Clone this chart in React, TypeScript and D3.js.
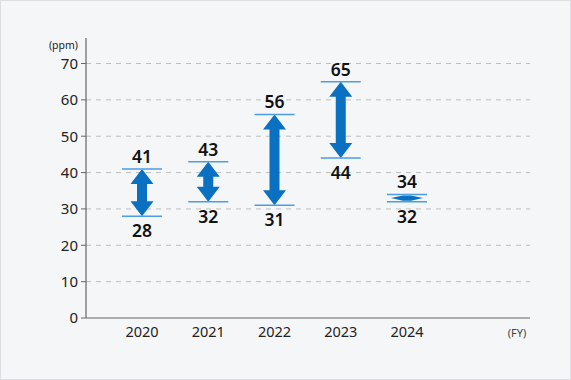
import React from "react";
import * as d3 from "d3";

const years = ["2020", "2021", "2022", "2023", "2024"];
const highs = [41, 43, 56, 65, 34];
const lows = [28, 32, 31, 44, 32];
const yTicks = [0, 10, 20, 30, 40, 50, 60, 70];

export default function App() {
  const W = 571, H = 380;
  const y = d3.scaleLinear().domain([0, 70]).range([318, 63.5]);
  const x = d3.scalePoint<string>().domain(years).range([142, 407]);
  const axisX = 86;
  const font = "'Noto Sans', 'DejaVu Sans', sans-serif";

  const arrowPath = (top: number, bot: number) => {
    const h = bot - top;
    const hl = Math.min(15, h / 2);
    const sw = 5, hw = 11.5;
    if (h / 2 <= hl) {
      const m = (top + bot) / 2;
      const w = 16;
      return `M${-w},${m} L${-4},${top + 1} L${4},${top + 1} L${w},${m} L${4},${bot - 1} L${-4},${bot - 1} Z`;
    }
    return `M0,${top} L${hw},${top + hl} L${sw},${top + hl} L${sw},${bot - hl} L${hw},${bot - hl} L0,${bot} L${-hw},${bot - hl} L${-sw},${bot - hl} L${-sw},${top + hl} L${-hw},${top + hl} Z`;
  };

  return (
    <div style={{ position: "fixed", left: 0, top: 0, width: W, height: H }}>
      <svg width={W} height={H} style={{ display: "block" }}>
        <rect x={0.5} y={0.5} width={W - 1} height={H - 1} fill="#f5f6f8" stroke="#dcdee2" />
        {yTicks.map((t) => (
          <g key={t}>
            {t > 0 && (
              <line x1={axisX} x2={530} y1={y(t)} y2={y(t)} stroke="#bdbdbd" strokeDasharray="5,5" strokeWidth={1} />
            )}
            <line x1={axisX - 5} x2={axisX} y1={y(t)} y2={y(t)} stroke="#666" />
            <text x={axisX - 8} y={y(t)} dy="0.36em" textAnchor="end" fontFamily={font} fontSize={15} fill="#222">
              {t}
            </text>
          </g>
        ))}
        <line x1={axisX} x2={axisX} y1={38} y2={318} stroke="#666" strokeWidth={1.2} />
        <line x1={axisX} x2={530} y1={318} y2={318} stroke="#666" strokeWidth={1.2} />
        <text x={78} y={49} textAnchor="end" fontFamily={font} fontSize={10.5} fill="#222">(ppm)</text>
        <text x={517} y={337} textAnchor="middle" fontFamily={font} fontSize={11} fill="#444">(FY)</text>
        {years.map((yr, i) => {
          const cx = x(yr)!;
          const yt = y(highs[i]);
          const yb = y(lows[i]);
          return (
            <g key={yr}>
              <text x={cx} y={337} textAnchor="middle" fontFamily={font} fontSize={14.5} fill="#222">{yr}</text>
              <path transform={`translate(${cx},0)`} d={arrowPath(yt, yb)} fill="#0a70c2" />
              <line x1={cx - 20} x2={cx + 20} y1={yt} y2={yt} stroke="#4a9de0" strokeWidth={1.5} />
              <line x1={cx - 20} x2={cx + 20} y1={yb} y2={yb} stroke="#4a9de0" strokeWidth={1.5} />
              <text x={cx} y={yt - 6} textAnchor="middle" fontFamily={font} fontSize={17.5} fontWeight={600} fill="#111">{highs[i]}</text>
              <text x={cx} y={yb + 21} textAnchor="middle" fontFamily={font} fontSize={17.5} fontWeight={600} fill="#111">{lows[i]}</text>
            </g>
          );
        })}
      </svg>
    </div>
  );
}
